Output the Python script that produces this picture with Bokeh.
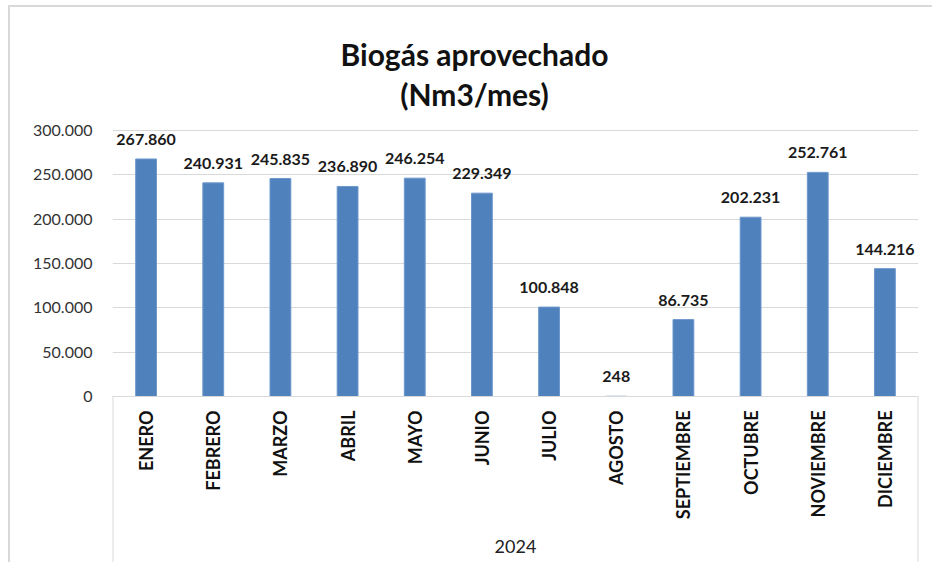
from bokeh.plotting import figure
from bokeh.models import (ColumnDataSource, FactorRange, Range1d, FixedTicker,
                          CustomJSTickFormatter, LabelSet, Label)
from bokeh.core.properties import value
from bokeh.embed import file_html
from bokeh.resources import INLINE
import math

months = ["ENERO", "FEBRERO", "MARZO", "ABRIL", "MAYO", "JUNIO", "JULIO",
          "AGOSTO", "SEPTIEMBRE", "OCTUBRE", "NOVIEMBRE", "DICIEMBRE"]
biogas = [267860, 240931, 245835, 236890, 246254, 229349, 100848,
          248, 86735, 202231, 252761, 144216]
y_ticks = [0, 50000, 100000, 150000, 200000, 250000, 300000]
year_label = "2024"
title_line1 = "Biogás aprovechado"
title_line2 = "(Nm3/mes)"

labels = [f"{v:,}".replace(",", ".") for v in biogas]
src = ColumnDataSource(dict(month=months, val=biogas, label=labels))

FONT = "Lato"
Y_MAX = 300000

# page-pixel layout of the plotting area
PAGE_X0, PAGE_Y0 = 10, 7          # figure origin on the page (margin + border)
PLOT_L, PLOT_R = 112, 918         # value area left/right (page px)
PLOT_T, PLOT_B = 130, 396         # y=300.000 and y=0 (page px)
FIG_BOTTOM = 562                  # bottom of category axis box (page px)

k = Y_MAX / (PLOT_B - PLOT_T)     # data units per pixel
def py2data(py):
    return Y_MAX - (py - PLOT_T) * k
def px2data(px):
    return (px - PLOT_L) / ((PLOT_R - PLOT_L) / len(months))

frame_w = PLOT_R - PLOT_L
frame_h = FIG_BOTTOM - PAGE_Y0

p = figure(x_range=FactorRange(*months),
           y_range=Range1d(py2data(FIG_BOTTOM), py2data(PAGE_Y0)),
           width=922, height=562, frame_width=frame_w, frame_height=frame_h,
           min_border_left=PLOT_L - PAGE_X0, min_border_right=14,
           min_border_top=0, min_border_bottom=0,
           output_backend="svg", toolbar_location=None, title=None)
p.outline_line_color = None
p.background_fill_color = "white"
p.border_fill_color = "white"
p.styles = {"margin-left": "8px", "margin-top": "5px",
            "border-left": "2px solid #d9d9d9", "border-top": "2px solid #d9d9d9"}

p.vbar(x="month", top="val", width=0.31, source=src,
       fill_color="#4F81BD", line_color="#6d97cc", line_width=1)

labs = LabelSet(x="month", y="val", text="label", source=src,
                text_align="center", text_baseline="alphabetic", y_offset=14,
                text_font=value(FONT), text_font_style="bold",
                text_font_size="16px", text_color="#1a1a1a")
p.add_layout(labs)

# y axis
p.yaxis.ticker = FixedTicker(ticks=y_ticks)
p.yaxis.formatter = CustomJSTickFormatter(
    code="return tick.toString().replace(/\\B(?=(\\d{3})+(?!\\d))/g, '.');")
p.yaxis.axis_line_color = None
p.yaxis.major_tick_line_color = None
p.yaxis.minor_tick_line_color = None
p.yaxis.major_tick_out = 0
p.yaxis.major_label_standoff = 20
p.yaxis.major_label_text_font = FONT
p.yaxis.major_label_text_font_size = "16px"
p.yaxis.major_label_text_color = "#333333"

p.ygrid.ticker = FixedTicker(ticks=y_ticks)
p.ygrid.grid_line_color = "#d9d9d9"
p.ygrid.grid_line_width = 1
p.xgrid.grid_line_color = None

# x axis, pinned at value 0 inside the frame
p.xaxis.fixed_location = 0
p.xaxis.axis_line_color = "#d9d9d9"
p.xaxis.axis_line_width = 1
p.xaxis.major_tick_line_color = None
p.xaxis.minor_tick_line_color = None
p.xaxis.major_tick_out = 0
p.xaxis.major_label_orientation = math.pi / 2
p.xaxis.major_label_standoff = 14
p.xaxis.major_label_text_font = FONT
p.xaxis.major_label_text_font_style = "bold"
p.xaxis.major_label_text_font_size = "18px"
p.xaxis.major_label_text_color = "#111111"
p.xaxis.axis_label = year_label
p.xaxis.axis_label_text_font = FONT
p.xaxis.axis_label_text_font_style = "normal"
p.xaxis.axis_label_text_font_size = "18px"
p.xaxis.axis_label_text_color = "#222222"
p.xaxis.axis_label_standoff = 18

# category-axis side lines
y_bottom = py2data(FIG_BOTTOM)
p.segment(x0=[0, len(months)], x1=[0, len(months)], y0=[0, 0],
          y1=[y_bottom, y_bottom], line_color="#d9d9d9", line_width=2)

# title (two lines)
for txt, base_py in ((title_line1, 53), (title_line2, 93)):
    p.add_layout(Label(x=px2data(474), y=py2data(base_py), text=txt,
                       text_align="center", text_baseline="alphabetic",
                       text_font=FONT, text_font_style="bold",
                       text_font_size="30px", text_color="#111111"))

open("out.html", "w").write(file_html(p, INLINE))
